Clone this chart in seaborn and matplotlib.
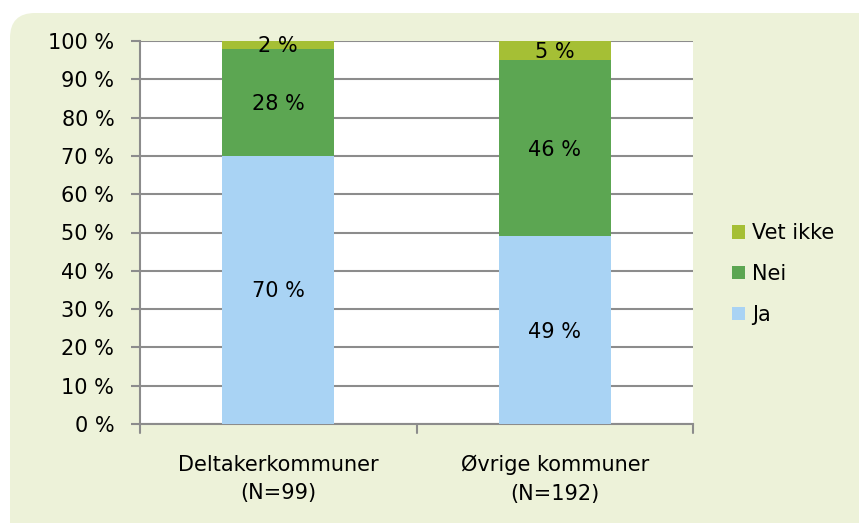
import matplotlib
matplotlib.use("Agg")
import matplotlib.pyplot as plt
import seaborn as sns
import pandas as pd
from matplotlib.patches import FancyBboxPatch, Patch

categories = ["Deltakerkommuner\n(N=99)", "Øvrige kommuner\n(N=192)"]
ja = [70, 49]
nei = [28, 46]
vet_ikke = [2, 5]
series_names = ["Ja", "Nei", "Vet ikke"]
colors = {"Ja": "#A9D3F4", "Nei": "#5CA652", "Vet ikke": "#A5BF35"}

sns.set_theme(style="white")
plt.rcParams['font.family'] = ['DejaVu Sans']

FS = 15
W, H = 859, 523
fig = plt.figure(figsize=(W / 100, H / 100), dpi=100)
fig.patch.set_facecolor("white")

# background rounded panel
bgax = fig.add_axes([0, 0, 1, 1])
bgax.set_xlim(0, W)
bgax.set_ylim(H, 0)
bgax.axis("off")
bgax.set_zorder(0)
bgax.add_patch(FancyBboxPatch((10, 13), W + 40, H + 40,
                              boxstyle="round,pad=0,rounding_size=25",
                              facecolor="#EDF2D9", edgecolor="none"))

ax = fig.add_axes([140 / W, 1 - 424 / H, (693 - 140) / W, (424 - 41) / H])
ax.set_zorder(1)
ax.set_facecolor("white")

df = pd.DataFrame({"cat": categories, "Ja": ja, "Nei": nei, "Vet ikke": vet_ikke})
cum = df["Ja"] + df["Nei"] + df["Vet ikke"]
layers = [("Vet ikke", cum), ("Nei", df["Ja"] + df["Nei"]), ("Ja", df["Ja"])]
for name, tops in layers:
    sns.barplot(x=df["cat"], y=tops, color=colors[name], ax=ax, width=0.405,
                saturation=1, zorder=3, edgecolor="none", linewidth=0)

# value labels
for i in range(len(categories)):
    b = 0
    for s in series_names:
        v = df[s].iloc[i]
        ax.text(i, b + v / 2 - 0.4, f"{v} %", ha="center", va="center", fontsize=FS,
                color="black", zorder=5)
        b += v

ax.set_ylim(0, 100)
ax.set_xlim(-0.5, 1.5)
ax.set_yticks(range(0, 101, 10))
ax.set_yticklabels([f"{t} %" for t in range(0, 101, 10)], fontsize=FS)
ax.set_xlabel("")
ax.set_ylabel("")
ax.tick_params(axis="x", labelsize=FS, length=0, pad=22, colors="black")
for lbl in ax.get_xticklabels():
    lbl.set_linespacing(1.55)
ax.tick_params(axis="y", length=6.5, width=1.5, color="#8C8C8C", labelcolor="black",
               direction="out", left=True, pad=12)
ax.grid(axis="y", color="#8C8C8C", linewidth=1.5, zorder=1)
ax.set_axisbelow(True)
for sp in ["top", "right"]:
    ax.spines[sp].set_visible(False)
for sp in ["left", "bottom"]:
    ax.spines[sp].set_color("#8C8C8C")
    ax.spines[sp].set_linewidth(1.5)
# category boundary ticks
for xb in [-0.5, 0.5, 1.5]:
    ax.plot([xb, xb], [0, -2.3], color="#8C8C8C", lw=1.5, clip_on=False, zorder=4)

handles = [Patch(facecolor=colors[s], edgecolor="none") for s in ["Vet ikke", "Nei", "Ja"]]
leg = fig.legend(handles, ["Vet ikke", "Nei", "Ja"], loc="center left",
                 bbox_to_anchor=(713 / W, 1 - 274 / H), frameon=False, fontsize=FS,
                 handlelength=0.63, handleheight=0.63, handletextpad=0.34, labelspacing=1.0)
for t in leg.get_texts():
    t.set_color("black")

fig.savefig("out.png", dpi=100, facecolor=fig.get_facecolor())
